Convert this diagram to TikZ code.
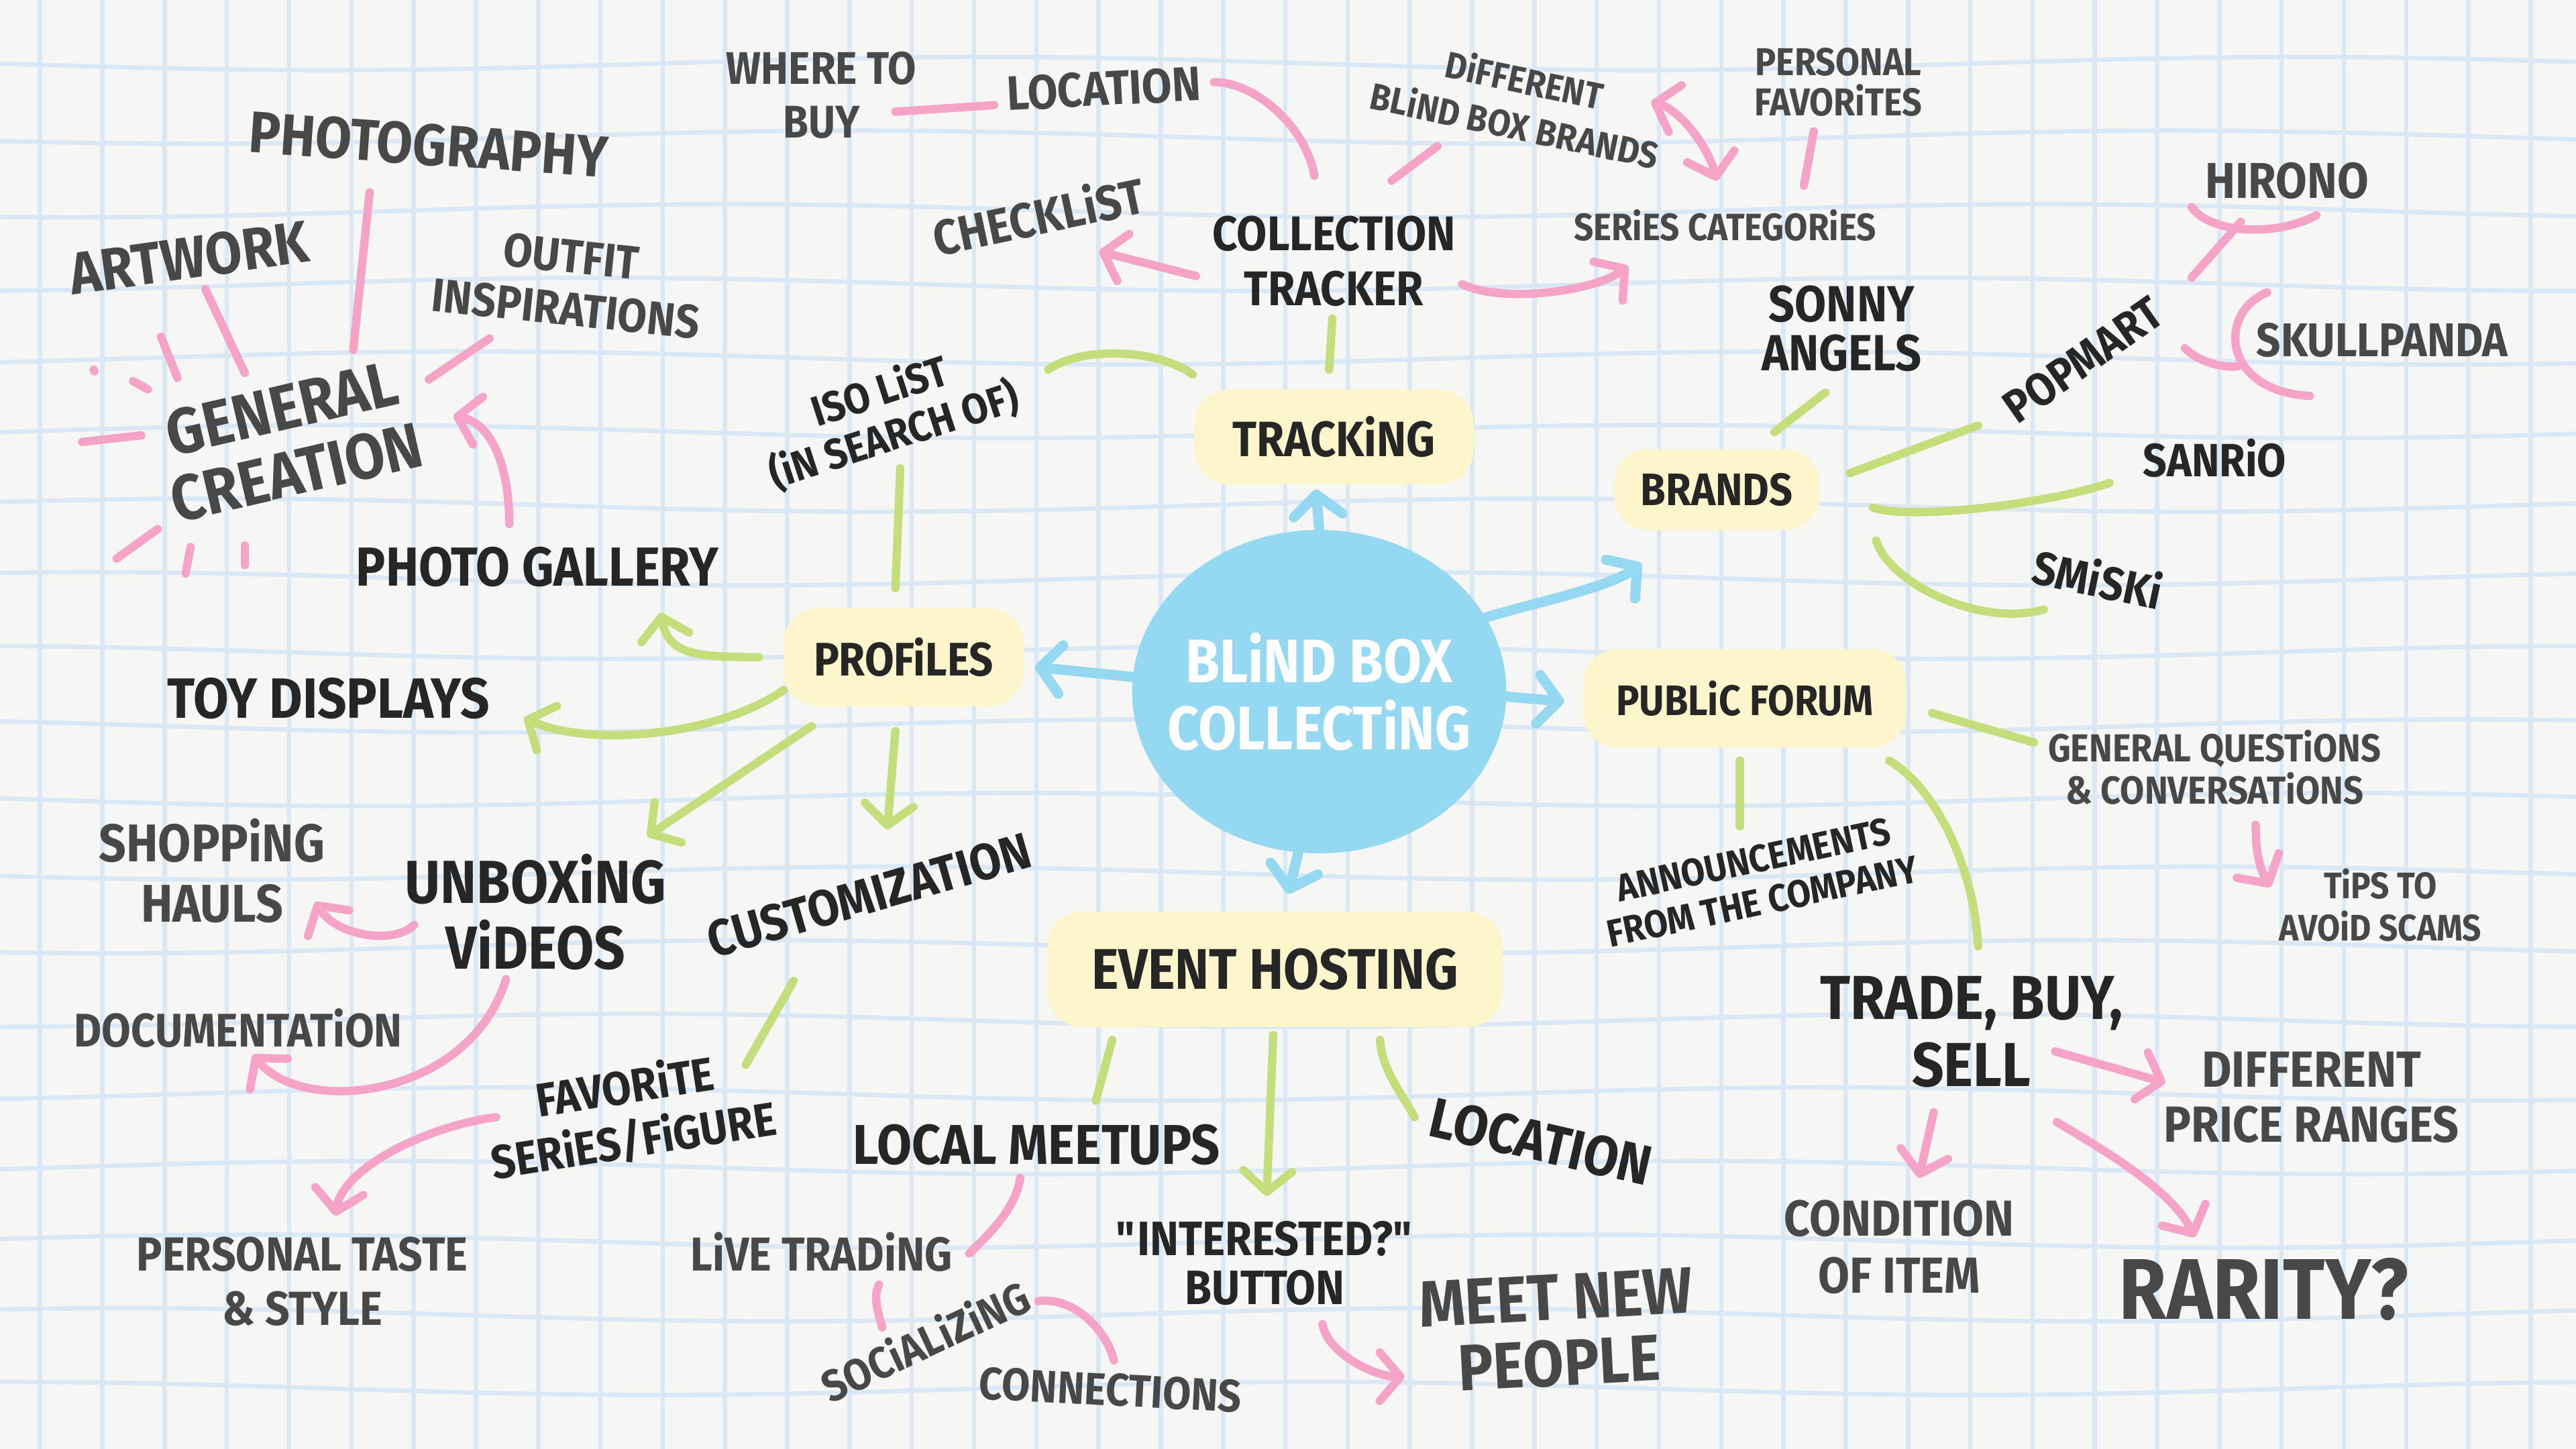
\documentclass[tikz,border=0pt]{standalone}
\usepackage{fontspec}
\setmainfont{Fira Sans}[FakeStretch=0.9]
\usepackage{tikz}
\usetikzlibrary{shapes.geometric, arrows.meta}

\definecolor{paper}{HTML}{F6F6F5}
\definecolor{gridc}{HTML}{DAE7F5}
\definecolor{skyc}{HTML}{94D8F2}
\definecolor{creamc}{HTML}{FDF6CD}
\definecolor{leafc}{HTML}{C4DE7C}
\definecolor{rosec}{HTML}{F6A3C8}
\definecolor{inkc}{HTML}{262626}
\definecolor{leadc}{HTML}{484848}

\begin{document}
\begin{tikzpicture}[x=0.025cm, y=-0.025cm, >={Straight Barb[length=9pt,width=21pt,round]},
  lbl/.style 2 args={font=\bfseries\fontsize{#1}{#2}\selectfont, align=center, inner sep=1pt, text=inkc},
  soft/.style={text=leadc},
  topic/.style={rounded corners=15pt, fill=creamc},
  hub/.style={ellipse, fill=skyc, minimum width=162pt, minimum height=140pt, inner xsep=-9pt, inner ysep=2pt,
    align=center, text=white, font=\bfseries\fontsize{26.6}{29}\selectfont},
  gl/.style={leafc, line width=3.6pt, line cap=round},
  rl/.style={rosec, line width=3.6pt, line cap=round},
  bl/.style={skyc, line width=4.4pt, line cap=round}]

  % paper
  \useasboundingbox (0,0) rectangle (1568,882);
  \fill[paper] (0,0) rectangle (1568,882);
  \foreach \i in {0,...,40}
    \draw[gridc, line width=1.9pt] ({24.4+37.9*\i},0) -- ({24.4+37.9*\i},882);
  \foreach \j in {0,...,18}
    \draw[gridc, line width=1.9pt] plot[domain=0:1568, samples=40, smooth] (\x, {38.7+44.8*\j+4*sin(0.45*\x+35*\j)});

  % centre and topics
  \node[hub] (hub) at (803,421) {BLiND BOX\\COLLECTiNG};
  \node[topic, minimum width=121pt, minimum height=41pt, lbl={21.5}{24}] (track) at (812,266) {TRACKiNG};
  \node[topic, minimum width=89pt, minimum height=35pt, lbl={19.7}{22}] (brands) at (1045,298) {BRANDS};
  \node[topic, minimum width=104pt, minimum height=42.5pt, lbl={20.4}{24}] (prof) at (550,400) {PROFiLES};
  \node[topic, minimum width=140pt, minimum height=42.5pt, lbl={18.5}{23}] (forum) at (1062,425) {PUBLiC FORUM};
  \node[topic, minimum width=197pt, minimum height=50pt, lbl={24.8}{30}] (event) at (776,590) {EVENT HOSTING};

  % profiles side
  \node[lbl={25.3}{28}, soft, rotate=-4] (photo) at (261,88) {PHOTOGRAPHY};
  \node[lbl={25.6}{27}, soft, rotate=8] (artwork) at (115,157) {ARTWORK};
  \node[lbl={20.4}{22.7}, soft, rotate=-6] (outfit) at (346,172) {OUTFIT\\INSPIRATIONS};
  \node[lbl={27.7}{28.4}, soft, rotate=13] (gencre) at (176,268) {GENERAL\\CREATION};
  \node[lbl={23.8}{28}] (pgal) at (327,345) {PHOTO GALLERY};
  \node[lbl={24.6}{30}] (toy) at (200,425) {TOY DISPLAYS};
  \node[lbl={23}{26.2}, soft] (shop) at (129,530) {SHOPPiNG\\HAULS};
  \node[lbl={26.3}{28.4}] (unbox) at (326,555) {UNBOXiNG\\ViDEOS};
  \node[lbl={20.4}{24}, soft] (docu) at (145,626) {DOCUMENTATiON};
  \node[lbl={22}{24}, rotate=16] (custom) at (529,545) {CUSTOMIZATION};
  \node[lbl={20.4}{23.4}, rotate=9] (fav) at (383,678) {FAVORiTE\\SERiES/FiGURE};
  \node[lbl={20.7}{23.4}, soft] (ptaste) at (184,780) {PERSONAL TASTE\\\& STYLE};
  \node[lbl={18.4}{20}, rotate=18] (iso) at (540,252) {ISO LiST\\(iN SEARCH OF)};

  % tracking side
  \node[lbl={19.8}{23.4}, soft] (buy) at (500,58) {WHERE TO\\BUY};
  \node[lbl={20.9}{25}, soft, rotate=3] (loctop) at (672,54) {LOCATION};
  \node[lbl={21.3}{24}, soft, rotate=12] (check) at (632,131) {CHECKLiST};
  \node[lbl={21.1}{24}] (ctrack) at (812,159) {COLLECTION\\TRACKER};
  \node[lbl={16.1}{20}, soft, rotate=-12] (diffb) at (925,62) {DiFFERENT\\BLiND BOX BRANDS};
  \node[lbl={16.8}{17.7}, soft] (pfav) at (1119,50) {PERSONAL\\FAVORiTES};
  \node[lbl={16.5}{18}, soft] (series) at (1050,137) {SERiES CATEGORiES};

  % brands side
  \node[lbl={22}{21}] (sonny) at (1121,200) {SONNY\\ANGELS};
  \node[lbl={20}{24}, rotate=35] (popmart) at (1268,219) {POPMART};
  \node[lbl={21.8}{21}, soft] (hirono) at (1392,110) {HIRONO};
  \node[lbl={20.5}{21}, soft] (skull) at (1450,207) {SKULLPANDA};
  \node[lbl={20.2}{21}] (sanrio) at (1348,279) {SANRiO};
  \node[lbl={20.2}{21}, rotate=-12] (smiski) at (1277,352) {SMiSKi};

  % forum side
  \node[lbl={16.9}{18.4}, soft] (genq) at (1348,467) {GENERAL QUESTiONS\\\& CONVERSATiONS};
  \node[lbl={16}{18.4}, soft] (tips) at (1449,551) {TiPS TO\\AVOiD SCAMS};
  \node[lbl={16.6}{18.4}, rotate=12] (announce) at (1070,536) {ANNOUNCEMENTS\\FROM THE COMPANY};
  \node[lbl={26.9}{29}] (trade) at (1200,628) {TRADE, BUY,\\SELL};
  \node[lbl={22}{24}, soft] (price) at (1407,668) {DIFFERENT\\PRICE RANGES};
  \node[lbl={21.9}{24.8}, soft] (cond) at (1156,759) {CONDITION\\OF ITEM};
  \node[lbl={37.3}{40}, soft] (rarity) at (1378,785) {RARITY?};

  % event side
  \node[lbl={28.3}{28.4}, soft, rotate=3] (meetnew) at (948,810) {MEET NEW\\PEOPLE};
  \node[lbl={20.9}{21.3}] (interest) at (770,769) {\textquotedbl INTERESTED?\textquotedbl\\BUTTON};
  \node[lbl={24.3}{28}, rotate=-13] (locbot) at (938,695) {LOCATION};
  \node[lbl={24.3}{28}] (meetups) at (631,697) {LOCAL MEETUPS};
  \node[lbl={20.6}{21}, soft] (livetr) at (500,762) {LiVE TRADiNG};
  \node[lbl={19.1}{20}, soft, rotate=25] (social) at (563,816) {SOCiALiZiNG};
  \node[lbl={19.7}{21}, soft, rotate=-3] (connect) at (676,846) {CONNECTIONS};

  % blue arrows from the centre
  \draw[bl, ->] (hub.north) -- ([shift={(-11,32)}]track.center);
  \draw[bl, ->] ([shift={(101,-45)}]hub.center) .. controls +(25,-8) and +(-20,15) .. ([shift={(-46,45)}]brands.center);
  \draw[bl, ->] ([shift={(-114,-9)}]hub.center) -- ([shift={(80,6)}]prof.center);
  \draw[bl, ->] ([shift={(114,3)}]hub.center) -- ([shift={(-110,2)}]forum.center);
  \draw[bl, ->] ([shift={(-13,99)}]hub.center) -- ([shift={(8,-46)}]event.center);

  % green branches
  \draw[gl, ->] ([shift={(-88,0)}]prof.center) .. controls +(-40,0) and +(5,25) .. ([shift={(75,28)}]pgal.center);
  \draw[gl, ->] ([shift={(-73,20)}]prof.center) .. controls +(-40,28) and +(40,18) .. ([shift={(119,12)}]toy.center);
  \draw[gl, ->] ([shift={(-56,42)}]prof.center) -- ([shift={(68,-46)}]unbox.center);
  \draw[gl, ->] ([shift={(-5,45)}]prof.center) -- ([shift={(11,-40)}]custom.center);
  \draw[gl] ([shift={(-5,-42)}]prof.center) -- ([shift={(8,33)}]iso.center);
  \draw[gl] ([shift={(-46,52)}]custom.center) -- ([shift={(71,-30)}]fav.center);
  \draw[gl] ([shift={(-1,35)}]ctrack.center) -- ([shift={(-3,-41)}]track.center);
  \draw[gl] ([shift={(-86,-38)}]track.center) .. controls +(-20,-15) and +(22,-15) .. ([shift={(98,-27)}]iso.center);
  \draw[gl] ([shift={(35,-35)}]brands.center) -- ([shift={(-10,39)}]sonny.center);
  \draw[gl] ([shift={(81,-10)}]brands.center) -- ([shift={(-64,40)}]popmart.center);
  \draw[gl] ([shift={(95,11)}]brands.center) .. controls +(25,8) and +(-35,12) .. ([shift={(-64,15)}]sanrio.center);
  \draw[gl] ([shift={(97,31)}]brands.center) .. controls +(8,26) and +(-39,11) .. ([shift={(-33,19)}]smiski.center);
  \draw[gl] ([shift={(114,9)}]forum.center) -- ([shift={(-110,-15)}]genq.center);
  \draw[gl] ([shift={(-3,38)}]forum.center) -- ([shift={(-11,-33)}]announce.center);
  \draw[gl] ([shift={(88,38)}]forum.center) .. controls +(30,18) and +(-2,-45) .. ([shift={(4,-52)}]trade.center);
  \draw[gl] ([shift={(-99,43)}]event.center) -- ([shift={(36,-27)}]meetups.center);
  \draw[gl, ->] ([shift={(-1,40)}]event.center) -- ([shift={(1,-41)}]interest.center);
  \draw[gl] ([shift={(64,43)}]event.center) .. controls +(1,18) and +(-8,-15) .. ([shift={(-77,-15)}]locbot.center);

  % pink sub-branches
  \draw[rl] ([shift={(39,-55)}]gencre.center) -- ([shift={(-36,29)}]photo.center);
  \draw[rl] ([shift={(-27,-41)}]gencre.center) -- ([shift={(10,19)}]artwork.center);
  \draw[rl] ([shift={(85,-37)}]gencre.center) -- ([shift={(-48,34)}]outfit.center);
  \draw[rl, ->] ([shift={(-17,-26)}]pgal.center) .. controls +(0,-34) and +(24,5) .. ([shift={(100,-15)}]gencre.center);
  \foreach \a/\b/\c/\d in {98/205/108/230, 81/232/90/237, 57/225/57.5/226, 50/269/86/265, 71/340/96/322, 113/349/116/333, 149/344/149/332}
    \draw[rl] (\a,\b) -- (\c,\d);
  \draw[rl, ->] ([shift={(-74,8)}]unbox.center) .. controls +(-12,12) and +(13,21) .. ([shift={(63,19)}]shop.center);
  \draw[rl, ->] ([shift={(-18,41)}]unbox.center) .. controls +(-22,72) and +(31,38) .. ([shift={(9,16)}]docu.center);
  \draw[rl, ->] ([shift={(-81,2)}]fav.center) .. controls +(-40,5) and +(5,-30) .. ([shift={(20,-40)}]ptaste.center);
  \draw[rl] ([shift={(-12,-52)}]ctrack.center) .. controls +(-5,-30) and +(25,0) .. ([shift={(67,-4)}]loctop.center);
  \draw[rl] ([shift={(45,10)}]buy.center) -- ([shift={(-67,10)}]loctop.center);
  \draw[rl, ->] ([shift={(-84,9)}]ctrack.center) -- ([shift={(37,22)}]check.center);
  \draw[rl] ([shift={(35,-49)}]ctrack.center) -- ([shift={(-50,27)}]diffb.center);
  \draw[rl, ->] ([shift={(78,14)}]ctrack.center) .. controls +(25,12) and +(-20,15) .. ([shift={(-59,25)}]series.center);
  \draw[rl, <->] ([shift={(80,0)}]diffb.center) .. controls +(18,5) and +(-5,-20) .. ([shift={(-5,-27)}]series.center);
  \draw[rl] ([shift={(-15,30)}]pfav.center) -- ([shift={(48,-24)}]series.center);
  \draw[rl] ([shift={(66,-50)}]popmart.center) -- ([shift={(-28,25)}]hirono.center);
  \draw[rl] ([shift={(-58,16)}]hirono.center) .. controls +(11,16) and +(-25,13.5) .. ([shift={(18,21)}]hirono.center);
  \draw[rl] ([shift={(-70,-29)}]skull.center) .. controls +(-30,12) and +(-54,-3) .. ([shift={(-44,34)}]skull.center);
  \draw[rl] ([shift={(62,-7)}]popmart.center) .. controls +(8,8) and +(-10,1) .. ([shift={(-88,16)}]skull.center);
  \draw[rl, ->] ([shift={(25,35)}]genq.center) .. controls +(0,15) and +(-7,-12) .. ([shift={(-67,-11)}]tips.center);
  \draw[rl, ->] ([shift={(51,12)}]trade.center) -- ([shift={(-89,-9)}]price.center);
  \draw[rl, ->] ([shift={(-23,49)}]trade.center) -- ([shift={(12,-42)}]cond.center);
  \draw[rl, ->] ([shift={(52,55)}]trade.center) .. controls +(25,15) and +(-15,-30) .. ([shift={(-42,-32)}]rarity.center);
  \draw[rl] ([shift={(-10,20)}]meetups.center) .. controls +(-3,20) and +(10,-10) .. ([shift={(90,1)}]livetr.center);
  \draw[rl] ([shift={(35,20)}]livetr.center) .. controls +(-4,8) and +(-2,-8) .. ([shift={(-26,-8)}]social.center);
  \draw[rl] ([shift={(69,-24)}]social.center) .. controls +(20,-3) and +(-5,-20) .. ([shift={(2,-18)}]connect.center);
  \draw[rl, ->] ([shift={(35,37)}]interest.center) .. controls +(3,18) and +(-18,0) .. ([shift={(-93,28)}]meetnew.center);
\end{tikzpicture}
\end{document}
